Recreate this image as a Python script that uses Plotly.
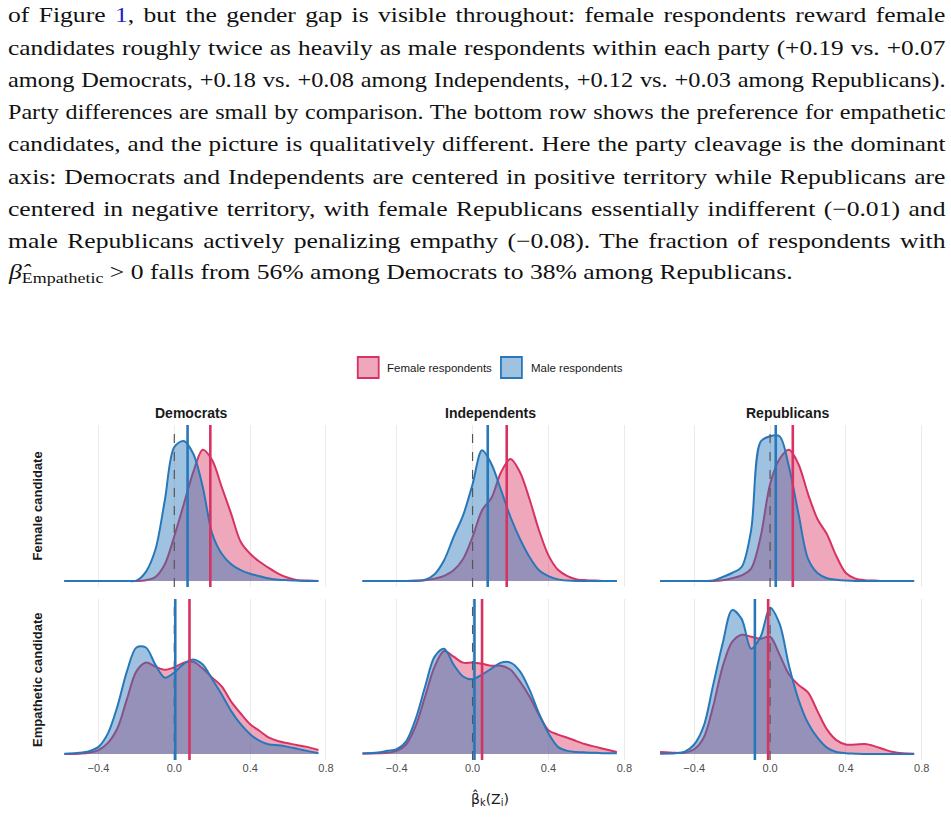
import plotly.graph_objects as go
from plotly.subplots import make_subplots

# ---------------- data ----------------
parties = ["Democrats", "Independents", "Republicans"]
attributes = ["Female candidate", "Empathetic candidate"]
groups = ["Female respondents", "Male respondents"]

grid = [-0.58, -0.50, -0.45, -0.40, -0.35, -0.30, -0.25, -0.20, -0.15, -0.10, -0.05, 0.00,
        0.05, 0.10, 0.15, 0.20, 0.25, 0.30, 0.35, 0.40, 0.45, 0.50, 0.55, 0.60, 0.65, 0.70, 0.76]

# density estimates (Female candidate row)
dem_fc_female = [0, 0, 0, 0, 0, 0, 0, 0, 0.02, 0.1, 0.42, 1.12, 1.92, 2.72, 3.28, 3.02, 2.35, 1.68, 0.98, 0.68, 0.48, 0.32, 0.18, 0.08, 0.02, 0.01, 0]
dem_fc_male = [0, 0, 0, 0, 0, 0, 0, 0.01, 0.23, 0.78, 2.02, 3.35, 3.5, 3.18, 2.35, 1.18, 0.68, 0.42, 0.27, 0.18, 0.12, 0.06, 0.03, 0.02, 0.01, 0, 0]
ind_fc_female = [0, 0, 0, 0, 0, 0, 0.02, 0.06, 0.13, 0.27, 0.55, 1.1, 1.77, 2.08, 2.72, 3.05, 2.72, 2.05, 1.27, 0.64, 0.28, 0.12, 0.04, 0.02, 0.01, 0, 0]
ind_fc_male = [0, 0, 0, 0, 0, 0.01, 0.03, 0.17, 0.52, 1.1, 1.64, 2.42, 3.27, 2.92, 2.27, 1.6, 1.05, 0.6, 0.27, 0.12, 0.04, 0.01, 0, 0, 0, 0, 0]
rep_fc_female = [0, 0, 0, 0, 0, 0, 0.02, 0.07, 0.14, 0.31, 1.1, 2.42, 3.05, 3.28, 2.92, 2.18, 1.55, 1.17, 0.62, 0.2, 0.06, 0.02, 0.01, 0, 0, 0, 0]
rep_fc_male = [0, 0, 0, 0, 0, 0.01, 0.1, 0.2, 0.35, 1.27, 3.48, 3.62, 3.62, 2.85, 1.68, 0.56, 0.2, 0.07, 0.03, 0.01, 0, 0, 0, 0, 0, 0, 0]

# density estimates (Empathetic candidate row)
dem_em_female = [0, 0.01, 0.03, 0.1, 0.28, 0.65, 1.38, 2.08, 2.3, 2.2, 2.12, 2.18, 2.3, 2.32, 2.15, 1.92, 1.7, 1.32, 1.02, 0.75, 0.58, 0.41, 0.32, 0.27, 0.22, 0.18, 0.1]
dem_em_male = [0.01, 0.03, 0.07, 0.18, 0.52, 1.2, 2.08, 2.68, 2.68, 2.25, 1.92, 2.05, 2.27, 2.38, 2.25, 1.88, 1.5, 1.08, 0.75, 0.5, 0.33, 0.24, 0.22, 0.18, 0.13, 0.08, 0.02]
ind_em_female = [0.01, 0.02, 0.03, 0.08, 0.24, 0.7, 1.45, 2.2, 2.59, 2.45, 2.3, 2.3, 2.27, 2.22, 2.22, 2.12, 1.82, 1.45, 0.99, 0.6, 0.49, 0.41, 0.32, 0.24, 0.18, 0.12, 0.05]
ind_em_male = [0.02, 0.04, 0.08, 0.12, 0.32, 0.88, 1.7, 2.45, 2.65, 2.25, 1.95, 1.88, 2.0, 2.15, 2.3, 2.3, 2.08, 1.62, 1.02, 0.52, 0.18, 0.08, 0.05, 0.04, 0.03, 0.02, 0.02]
rep_em_female = [0.05, 0.03, 0.03, 0.12, 0.41, 1.2, 2.2, 2.82, 3.0, 2.95, 2.9, 2.95, 2.5, 2.0, 1.74, 1.55, 1.08, 0.62, 0.35, 0.24, 0.24, 0.25, 0.2, 0.12, 0.05, 0.02, 0.01]
rep_em_male = [0.01, 0.02, 0.06, 0.24, 0.7, 1.74, 2.78, 3.62, 3.4, 2.65, 2.95, 3.68, 3.28, 2.22, 1.37, 0.78, 0.41, 0.16, 0.05, 0.02, 0.01, 0, 0, 0, 0, 0, 0]

# means (by party): female respondents / male respondents
mean_fc_female = [0.19, 0.18, 0.12]
mean_fc_male = [0.07, 0.08, 0.03]
mean_em_female = [0.08, 0.05, -0.01]
mean_em_male = [0.005, 0.01, -0.08]

tick_vals = [-0.4, 0.0, 0.4, 0.8]
tick_text = ["\u22120.4", "0.0", "0.4", "0.8"]

paragraph = [
    "of Figure <span style='color:rgb(30,30,200)'>1</span>, but the gender gap is visible throughout: female respondents reward female",
    "candidates roughly twice as heavily as male respondents within each party (+0.19 vs. +0.07",
    "among Democrats, +0.18 vs. +0.08 among Independents, +0.12 vs. +0.03 among Republicans).",
    "Party differences are small by comparison. The bottom row shows the preference for empathetic",
    "candidates, and the picture is qualitatively different. Here the party cleavage is the dominant",
    "axis: Democrats and Independents are centered in positive territory while Republicans are",
    "centered in negative territory, with female Republicans essentially indifferent (\u22120.01) and",
    "male Republicans actively penalizing empathy (\u22120.08). The fraction of respondents with",
    "<i>\u03b2\u0302</i><sub>Empathetic</sub> &gt; 0 falls from 56% among Democrats to 38% among Republicans.",
]

# ---------------- styling ----------------
PINK = "rgb(214,51,98)"
PINK_FILL = "rgba(220,60,105,0.45)"
BLUE = "rgb(40,120,185)"
BLUE_FILL = "rgba(40,120,185,0.45)"
W, H = 951, 836

def px_x(p):
    return p / W

def px_y(p):
    return 1 - p / H

curves = {
    (0, 0): (dem_fc_female, dem_fc_male), (0, 1): (ind_fc_female, ind_fc_male), (0, 2): (rep_fc_female, rep_fc_male),
    (1, 0): (dem_em_female, dem_em_male), (1, 1): (ind_em_female, ind_em_male), (1, 2): (rep_em_female, rep_em_male),
}
means = {0: (mean_fc_female, mean_fc_male), 1: (mean_em_female, mean_em_male)}

fig = make_subplots(rows=2, cols=3)

x_domains = [(52.5, 332.0), (351.3, 631.0), (649.5, 929.0)]
y_domains = [(425, 587), (599, 760)]

shapes = []
for r in range(2):
    for c in range(3):
        k = r * 3 + c + 1
        xs = "" if k == 1 else str(k)
        fem, mal = curves[(r, c)]
        fig.add_trace(go.Scatter(x=grid, y=fem, mode="lines", fill="tozeroy", fillcolor=PINK_FILL,
                                 line=dict(color=PINK, width=2, shape="spline", smoothing=0.9),
                                 name=groups[0], showlegend=False, hoverinfo="skip"), row=r + 1, col=c + 1)
        fig.add_trace(go.Scatter(x=grid, y=mal, mode="lines", fill="tozeroy", fillcolor=BLUE_FILL,
                                 line=dict(color=BLUE, width=2, shape="spline", smoothing=0.9),
                                 name=groups[1], showlegend=False, hoverinfo="skip"), row=r + 1, col=c + 1)
        xd = x_domains[c]
        yd = y_domains[r]
        fig.layout["xaxis" + xs].update(domain=[px_x(xd[0]), px_x(xd[1])], range=[-0.643, 0.828],
                                        showgrid=True, gridcolor="#ebebeb", gridwidth=1.3,
                                        zeroline=False, showline=False, ticks="",
                                        tickvals=tick_vals, ticktext=tick_text,
                                        showticklabels=(r == 1),
                                        tickfont=dict(family="Liberation Sans, Arial", size=11, color="#4d4d4d"))
        fig.layout["yaxis" + xs].update(domain=[px_y(yd[1]), px_y(yd[0])], range=[-0.15, 3.9],
                                        showgrid=False, zeroline=False, showline=False,
                                        showticklabels=False, ticks="")
        # reference line at zero
        shapes.append(dict(type="line", xref="x" + xs, yref="y" + xs + " domain", x0=0, x1=0, y0=0, y1=1,
                           line=dict(color="#555555", width=1.2, dash="dash"), layer="above"))
        mf, mm = means[r]
        shapes.append(dict(type="line", xref="x" + xs, yref="y" + xs + " domain", x0=mm[c], x1=mm[c], y0=0, y1=1,
                           line=dict(color=BLUE, width=2.6), layer="above"))
        shapes.append(dict(type="line", xref="x" + xs, yref="y" + xs + " domain", x0=mf[c], x1=mf[c], y0=0, y1=1,
                           line=dict(color=PINK, width=2.6), layer="above"))

# legend keys (manual, ggplot-like)
shapes.append(dict(type="rect", xref="paper", yref="paper", x0=px_x(358.5), x1=px_x(379.5),
                   y0=px_y(378), y1=px_y(357), fillcolor=PINK_FILL, line=dict(color=PINK, width=1.8)))
shapes.append(dict(type="rect", xref="paper", yref="paper", x0=px_x(502), x1=px_x(523),
                   y0=px_y(378), y1=px_y(357), fillcolor=BLUE_FILL, line=dict(color=BLUE, width=1.8)))

annotations = []
# paragraph lines (indices 0..8)
for i, line in enumerate(paragraph):
    annotations.append(dict(text=line, xref="paper", yref="paper", x=px_x(6), y=px_y(15.5 + 32.2 * i),
                            xanchor="left", yanchor="middle", align="left", showarrow=False,
                            font=dict(family="Liberation Serif, Times New Roman, serif", size=21, color="#111111")))
# strip titles
for c, p in enumerate(parties):
    annotations.append(dict(text="<b>%s</b>" % p, xref="paper", yref="paper",
                            x=px_x((x_domains[c][0] + x_domains[c][1]) / 2), y=px_y(413),
                            xanchor="center", yanchor="middle", showarrow=False,
                            font=dict(family="Liberation Sans, Arial", size=14, color="#1a1a1a")))
# row labels
for r, a in enumerate(attributes):
    annotations.append(dict(text="<b>%s</b>" % a, xref="paper", yref="paper", x=px_x(37.5),
                            y=px_y((y_domains[r][0] + y_domains[r][1]) / 2), textangle=-90,
                            xanchor="center", yanchor="middle", showarrow=False,
                            font=dict(family="Liberation Sans, Arial", size=13, color="#1a1a1a")))
# x-axis title
annotations.append(dict(text="\u03b2\u0302<sub>k</sub>(Z<sub>i</sub>)", xref="paper", yref="paper",
                        x=px_x(491), y=px_y(798), xanchor="center", yanchor="middle", showarrow=False,
                        font=dict(family="DejaVu Sans, Liberation Sans", size=14, color="#1a1a1a")))
# legend labels
annotations.append(dict(text=groups[0], xref="paper", yref="paper", x=px_x(386), y=px_y(367.5),
                        xanchor="left", yanchor="middle", showarrow=False,
                        font=dict(family="Liberation Sans, Arial", size=11.5, color="#1a1a1a")))
annotations.append(dict(text=groups[1], xref="paper", yref="paper", x=px_x(530), y=px_y(367.5),
                        xanchor="left", yanchor="middle", showarrow=False,
                        font=dict(family="Liberation Sans, Arial", size=11.5, color="#1a1a1a")))

fig.update_layout(width=W, height=H, margin=dict(l=0, r=0, t=0, b=0), autosize=False,
                  paper_bgcolor="white", plot_bgcolor="white", showlegend=False,
                  shapes=shapes, annotations=annotations)

# Emulate the wider Computer Modern glyphs (horizontal scale) and LaTeX justification
# (wider inter-word spaces) for the paragraph lines.
justify_js = """
var gd = document.getElementById('{plot_id}');
function annText(i) {
  var g = gd.querySelector('g.annotation[data-index="' + i + '"]');
  return g ? g.querySelector('text.annotation-text') : null;
}
function justifyLines() {
  var full = 938, lastWidth = 784;
  var last = annText(8);
  if (!last) { return; }
  last.style.wordSpacing = '0px';
  var s = lastWidth / last.getComputedTextLength();
  for (var i = 0; i <= 8; i++) {
    var t = annText(i);
    if (!t) { continue; }
    t.style.wordSpacing = '0px';
    var w0 = t.getComputedTextLength();
    var x0 = parseFloat(t.getAttribute('x')) || 0;
    var si = s;
    if (i < 8) {
      var n = (t.textContent.match(/[ \\u00a0]/g) || []).length;
      si = Math.min(s, full / (w0 + 0.6 * n));
      if (n > 0) { t.style.wordSpacing = ((full / si - w0) / n) + 'px'; }
    }
    t.setAttribute('transform', 'translate(' + x0 + ',0) scale(' + si + ',1) translate(' + (-x0) + ',0)');
  }
}
justifyLines();
"""

fig.write_html("out.html", post_script=justify_js)
